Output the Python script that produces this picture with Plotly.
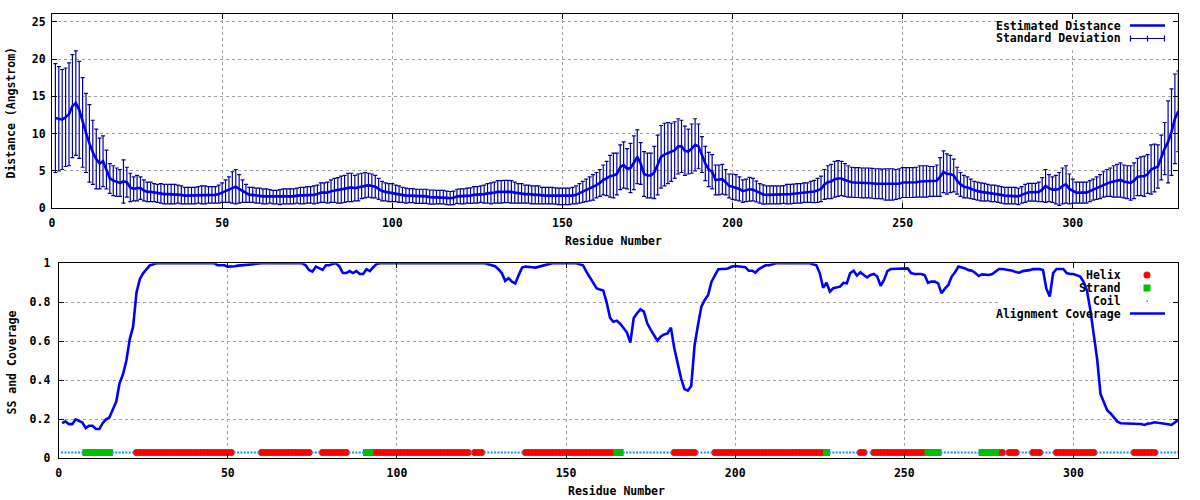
import plotly.graph_objects as go

# ---------------- data ----------------
residues = list(range(1, 332))

distance = [
    12.1, 12.0, 11.9, 12.2, 12.6, 13.7, 14.1, 13.2, 11.5, 10.1,
    8.7, 7.5, 6.6, 6.0, 6.3, 5.2, 4.0, 3.7, 3.5, 3.4,
    3.6, 3.5, 2.8, 2.6, 2.7, 2.7, 2.4, 2.2, 2.2, 2.1,
    2.0, 2.0, 1.9, 1.9, 1.9, 1.9, 1.9, 1.8, 1.7, 1.7,
    1.7, 1.7, 1.8, 1.8, 1.8, 1.8, 1.8, 1.8, 1.9, 2.1,
    2.3, 2.5, 2.8, 2.9, 2.6, 2.3, 2.0, 1.8, 1.8, 1.7,
    1.7, 1.6, 1.6, 1.6, 1.5, 1.5, 1.5, 1.6, 1.6, 1.6,
    1.6, 1.7, 1.7, 1.7, 1.8, 1.8, 1.8, 1.9, 2.1, 2.1,
    2.1, 2.3, 2.4, 2.4, 2.5, 2.6, 2.8, 2.8, 2.7, 2.8,
    3.0, 3.1, 3.1, 3.0, 2.9, 2.6, 2.3, 2.2, 2.1, 2.1,
    2.0, 1.9, 1.8, 1.7, 1.7, 1.7, 1.6, 1.6, 1.6, 1.6,
    1.5, 1.5, 1.5, 1.5, 1.5, 1.4, 1.35, 1.4, 1.6, 1.6,
    1.6, 1.7, 1.7, 1.8, 1.8, 1.9, 1.9, 2.0, 2.0, 2.1,
    2.2, 2.2, 2.25, 2.25, 2.2, 2.1, 2.0, 2.0, 1.9, 1.9,
    1.8, 1.8, 1.8, 1.7, 1.7, 1.7, 1.7, 1.65, 1.6, 1.6,
    1.6, 1.6, 1.7, 1.8, 2.0, 2.2, 2.4, 2.6, 2.8, 3.1,
    3.4, 3.8, 4.0, 4.3, 4.4, 4.6, 5.5, 5.8, 5.3, 5.4,
    6.1, 6.9, 6.0, 4.6, 4.4, 4.4, 4.8, 5.8, 6.9, 7.2,
    7.4, 7.5, 7.8, 8.3, 8.3, 7.7, 7.6, 8.0, 8.5, 8.3,
    7.2, 6.0, 5.2, 4.9, 3.8, 3.8, 3.9, 3.5, 3.0, 2.9,
    2.8, 2.6, 2.3, 2.4, 2.55, 2.5, 2.25, 2.0, 1.85, 1.8,
    1.8, 1.8, 1.8, 1.8, 1.85, 1.9, 1.9, 1.95, 2.0, 2.0,
    2.1, 2.1, 2.2, 2.25, 2.4, 2.6, 3.2, 3.5, 3.6, 3.9,
    4.0, 4.0, 3.8, 3.6, 3.5, 3.45, 3.45, 3.4, 3.4, 3.4,
    3.35, 3.3, 3.3, 3.25, 3.2, 3.2, 3.2, 3.2, 3.3, 3.45,
    3.45, 3.45, 3.45, 3.5, 3.6, 3.6, 3.6, 3.6, 3.6, 3.7,
    4.2, 4.9, 4.6, 4.6, 4.4, 3.7, 3.2, 2.9, 2.8, 2.6,
    2.4, 2.3, 2.2, 2.15, 2.1, 2.0, 2.0, 1.9, 1.8, 1.7,
    1.7, 1.7, 1.7, 1.6, 1.8, 2.0, 2.15, 2.15, 2.15, 2.2,
    2.5, 3.0, 2.7, 2.5, 2.5, 2.6, 3.0, 3.2, 2.6, 2.3,
    2.1, 2.1, 2.1, 2.1, 2.3, 2.5, 2.7, 2.9, 3.2, 3.4,
    3.5, 3.6, 3.7, 3.8, 3.6, 3.5, 3.4, 3.7, 4.2, 4.3,
    4.3, 4.6, 5.2, 5.4, 5.6, 6.8, 8.0, 8.9, 10.2, 12.0, 13.0,
]

std_dev = [
    7.3, 7.0, 6.7, 6.6, 6.9, 6.9, 7.0, 6.5, 6.0, 5.3,
    5.2, 4.3, 4.0, 3.4, 3.4, 2.6, 2.0, 2.0, 1.9, 1.8,
    2.9, 2.0, 1.9, 1.6, 1.7, 1.5, 1.4, 1.3, 1.3, 1.2,
    1.2, 1.3, 1.3, 1.3, 1.3, 1.3, 1.2, 1.2, 1.1, 1.1,
    1.1, 1.1, 1.1, 1.2, 1.2, 1.1, 1.1, 1.1, 1.2, 1.3,
    1.5, 1.7, 2.1, 2.3, 1.9, 1.5, 1.2, 1.0, 1.0, 1.0,
    1.0, 1.0, 1.0, 0.9, 0.9, 0.9, 1.0, 1.0, 1.0, 1.0,
    1.0, 1.0, 1.1, 1.1, 1.1, 1.1, 1.2, 1.2, 1.3, 1.3,
    1.4, 1.5, 1.6, 1.7, 1.8, 1.8, 1.9, 1.9, 1.7, 1.8,
    1.7, 1.7, 1.6, 1.6, 1.5, 1.4, 1.3, 1.2, 1.2, 1.2,
    1.1, 1.1, 1.0, 1.0, 0.95, 0.95, 0.95, 0.95, 0.95, 0.95,
    0.95, 0.95, 0.9, 0.9, 0.9, 0.9, 0.9, 0.9, 0.95, 1.0,
    1.0, 1.0, 1.05, 1.1, 1.1, 1.1, 1.2, 1.3, 1.4, 1.4,
    1.5, 1.5, 1.5, 1.5, 1.5, 1.4, 1.3, 1.3, 1.2, 1.2,
    1.2, 1.2, 1.2, 1.1, 1.1, 1.1, 1.1, 1.1, 1.1, 1.1,
    1.1, 1.1, 1.1, 1.2, 1.3, 1.4, 1.5, 1.6, 1.7, 1.7,
    1.8, 2.0, 2.3, 2.8, 3.0, 2.8, 3.0, 3.1, 2.7, 3.3,
    3.6, 3.6, 2.8, 3.0, 3.0, 3.0, 3.5, 4.0, 4.2, 4.2,
    4.1, 3.9, 3.8, 3.7, 3.5, 3.3, 3.0, 3.3, 3.5, 3.0,
    2.4, 2.3, 2.3, 2.3, 2.0, 2.0, 2.0, 1.7, 1.6, 1.7,
    1.7, 1.6, 1.5, 1.5, 1.6, 1.5, 1.4, 1.3, 1.3, 1.2,
    1.2, 1.2, 1.2, 1.2, 1.2, 1.3, 1.3, 1.3, 1.3, 1.3,
    1.3, 1.3, 1.4, 1.5, 1.6, 1.7, 2.0, 2.2, 2.3, 2.4,
    2.4, 2.3, 2.2, 2.1, 2.0, 2.0, 2.0, 2.0, 2.0, 2.0,
    2.0, 2.0, 2.0, 2.0, 2.1, 2.1, 2.1, 2.0, 2.0, 2.0,
    2.0, 2.0, 2.0, 2.0, 2.1, 2.1, 2.1, 2.0, 2.0, 2.1,
    2.6, 2.8, 2.7, 2.5, 2.2, 1.8, 1.6, 1.5, 1.4, 1.3,
    1.2, 1.2, 1.2, 1.2, 1.1, 1.1, 1.1, 1.1, 1.1, 1.1,
    1.1, 1.1, 1.1, 1.1, 1.1, 1.2, 1.2, 1.2, 1.2, 1.3,
    1.6, 2.2, 1.8, 1.7, 1.9, 2.2, 2.4, 2.5, 2.0, 1.6,
    1.4, 1.4, 1.4, 1.4, 1.4, 1.4, 1.5, 1.6, 1.7, 1.8,
    1.9, 2.1, 2.2, 2.3, 2.2, 2.2, 2.3, 2.4, 2.5, 2.6,
    2.7, 2.6, 3.3, 3.2, 2.9, 3.0, 3.5, 5.5, 5.8, 6.0, 5.4,
]

coverage = [
    0.18, 0.19, 0.175, 0.175, 0.20, 0.19, 0.183, 0.155, 0.167, 0.167,
    0.15, 0.15, 0.18, 0.20, 0.21, 0.25, 0.29, 0.385, 0.43, 0.50,
    0.61, 0.675, 0.85, 0.92, 0.95, 0.97, 0.99, 0.995, 1.0, 1.0,
    1.0, 1.0, 1.0, 1.0, 1.0, 1.0, 1.0, 1.0, 1.0, 1.0,
    1.0, 0.997, 0.997, 1.0, 1.0, 1.0, 0.99, 0.99, 0.99, 0.983,
    0.983, 0.985, 0.988, 0.99, 0.99, 0.992, 0.995, 0.998, 1.0, 1.0,
    1.0, 1.0, 1.0, 1.0, 1.0, 1.0, 1.0, 1.0, 1.0, 1.0,
    1.0, 1.0, 0.99, 0.966, 0.957, 0.983, 0.975, 0.966, 0.99, 0.99,
    0.997, 1.0, 0.983, 0.95, 0.95, 0.96, 0.95, 0.96, 0.945, 0.945,
    0.97, 0.96, 0.98, 0.997, 1.0, 1.0, 1.0, 1.0, 1.0, 1.0,
    1.0, 1.0, 1.0, 1.0, 1.0, 1.0, 1.0, 1.0, 1.0, 1.0,
    1.0, 1.0, 1.0, 1.0, 1.0, 1.0, 1.0, 1.0, 1.0, 1.0,
    1.0, 1.0, 1.0, 1.0, 1.0, 1.0, 0.995, 0.99, 0.985, 0.97,
    0.95, 0.91, 0.923, 0.906, 0.897, 0.94, 0.978, 0.983, 0.983, 0.98,
    0.978, 0.983, 0.986, 0.995, 0.997, 1.0, 1.0, 1.0, 1.0, 1.0,
    1.0, 1.0, 1.0, 0.995, 0.99, 0.957, 0.93, 0.9, 0.872, 0.865,
    0.86, 0.80, 0.72, 0.70, 0.706, 0.69, 0.67, 0.645, 0.593, 0.72,
    0.744, 0.764, 0.752, 0.692, 0.66, 0.63, 0.603, 0.625, 0.635, 0.64,
    0.67, 0.564, 0.479, 0.41, 0.355, 0.347, 0.371, 0.58, 0.684, 0.778,
    0.812, 0.838, 0.906, 0.94, 0.97, 0.971, 0.971, 0.975, 0.983, 0.986,
    0.983, 0.98, 0.98, 0.962, 0.962, 0.952, 0.97, 0.98, 0.99, 0.99,
    0.995, 1.0, 1.0, 1.0, 1.0, 1.0, 1.0, 1.0, 1.0, 1.0,
    1.0, 1.0, 0.995, 0.99, 0.95, 0.875, 0.90, 0.855, 0.872, 0.877,
    0.88, 0.90, 0.897, 0.95, 0.962, 0.937, 0.954, 0.94, 0.928, 0.94,
    0.945, 0.932, 0.884, 0.915, 0.96, 0.971, 0.971, 0.973, 0.974, 0.974,
    0.974, 0.95, 0.945, 0.945, 0.945, 0.94, 0.90, 0.906, 0.906, 0.897,
    0.846, 0.87, 0.889, 0.932, 0.954, 0.983, 0.98, 0.974, 0.965, 0.962,
    0.95, 0.935, 0.943, 0.943, 0.94, 0.945, 0.957, 0.971, 0.971, 0.968,
    0.966, 0.962, 0.955, 0.952, 0.96, 0.962, 0.965, 0.97, 0.971, 0.971,
    0.966, 0.87, 0.83, 0.95, 0.971, 0.971, 0.971, 0.95, 0.945, 0.945,
    0.94, 0.932, 0.905, 0.86, 0.76, 0.64, 0.51, 0.33, 0.285, 0.245,
    0.23, 0.21, 0.188, 0.18, 0.18, 0.179, 0.178, 0.177, 0.176, 0.176,
    0.171, 0.178, 0.18, 0.185, 0.182, 0.18, 0.179, 0.175, 0.171, 0.183, 0.197,
]

# secondary structure: (type, first residue, last residue)
ss_segments = [
    ("C", 1, 7), ("E", 8, 15), ("C", 16, 22), ("H", 23, 51), ("C", 52, 59),
    ("H", 60, 74), ("C", 75, 77), ("H", 78, 85), ("C", 86, 90), ("E", 91, 92),
    ("H", 93, 121), ("C", 122, 122), ("H", 123, 125), ("C", 126, 137),
    ("H", 138, 164), ("E", 165, 166), ("C", 167, 181), ("H", 182, 188),
    ("C", 189, 193), ("H", 194, 226), ("E", 227, 227), ("C", 228, 236),
    ("H", 237, 238), ("C", 239, 240), ("H", 241, 256), ("E", 257, 260),
    ("C", 261, 272), ("E", 273, 277), ("H", 278, 279), ("C", 280, 280),
    ("H", 281, 283), ("C", 284, 287), ("H", 288, 290), ("C", 291, 294),
    ("H", 295, 306), ("C", 307, 317), ("H", 318, 324), ("C", 325, 331),
]
ss_level = 0.03

x_ticks = [0, 50, 100, 150, 200, 250, 300]
dist_ticks = [0, 5, 10, 15, 20, 25]
cov_ticks = [0, 0.2, 0.4, 0.6, 0.8, 1]

# ---------------- styling ----------------
FONT = "DejaVu Sans Mono"
LINE_BLUE = "#0000ee"
BAR_NAVY = "#0000a0"
HELIX_RED = "#ff0000"
STRAND_GREEN = "#00c000"
COIL_BLUE = "#1a8cff"
GRID = "#a0a0a0"
W, H = 1200, 500


def px(x):
    return x / W


def py(y):
    return 1 - y / H


ss_by_res = {}
for kind, a, b in ss_segments:
    for r in range(a, b + 1):
        ss_by_res[r] = kind

fig = go.Figure()

# --- top panel ---
fig.add_trace(go.Scatter(
    x=residues, y=distance, mode="markers",
    marker=dict(size=1, color=BAR_NAVY),
    error_y=dict(type="data", array=std_dev, visible=True,
                 color=BAR_NAVY, thickness=1.2, width=2),
    xaxis="x", yaxis="y", showlegend=False, hoverinfo="skip"))
fig.add_trace(go.Scatter(
    x=residues, y=distance, mode="lines",
    line=dict(color=LINE_BLUE, width=2.6),
    xaxis="x", yaxis="y", showlegend=False))

# --- bottom panel ---
for kind, color, sym, size in [("H", HELIX_RED, "circle", 7),
                               ("E", STRAND_GREEN, "square", 7),
                               ("C", COIL_BLUE, "square", 2)]:
    xs = [r for r in residues if ss_by_res.get(r) == kind]
    fig.add_trace(go.Scatter(
        x=xs, y=[ss_level] * len(xs), mode="markers",
        marker=dict(symbol=sym, size=size, color=color, line=dict(width=0)),
        xaxis="x2", yaxis="y2", showlegend=False))
fig.add_trace(go.Scatter(
    x=residues, y=coverage, mode="lines",
    line=dict(color="#0000ff", width=2.6),
    xaxis="x2", yaxis="y2", showlegend=False))

axis_common = dict(
    showline=True, linecolor="black", linewidth=1, mirror="ticks",
    ticks="inside", ticklen=5, tickcolor="black", tickwidth=1,
    showgrid=True, gridcolor=GRID, gridwidth=1, griddash="dot",
    zeroline=False, automargin=False,
    tickfont=dict(family=FONT, size=11.5, color="black", weight="bold"),
)

fig.update_layout(
    width=W, height=H, autosize=False,
    margin=dict(l=0, r=0, t=0, b=0, pad=0),
    paper_bgcolor="white", plot_bgcolor="white",
    font=dict(family=FONT, size=11.5, color="black", weight="bold"),
    xaxis=dict(domain=[px(52), px(1178.3)], range=[0, 331], tickvals=x_ticks,
               anchor="y", ticklabelstandoff=4, **axis_common),
    yaxis=dict(domain=[py(208.3), py(14.3)], range=[0, 26], tickvals=dist_ticks,
               anchor="x", ticklabelstandoff=3, **axis_common),
    xaxis2=dict(domain=[px(58.7), px(1178.3)], range=[0, 331], tickvals=x_ticks,
                anchor="y2", ticklabelstandoff=4, **axis_common),
    yaxis2=dict(domain=[py(458.3), py(263.3)], range=[0, 1], tickvals=cov_ticks,
                anchor="x2", ticklabelstandoff=5, **axis_common),
)

annotations = [
    dict(text="Distance (Angstrom)", x=px(11), y=py(112.5), textangle=-90),
    dict(text="Residue Number", x=px(613.3), y=py(240.8)),
    dict(text="SS and Coverage", x=px(11), y=py(362.5), textangle=-90),
    dict(text="Residue Number", x=px(616.7), y=py(490.7)),
]
for a in annotations:
    a.update(xref="paper", yref="paper", showarrow=False,
             xanchor="center", yanchor="middle",
             font=dict(family=FONT, size=11.5, color="black", weight="bold"))

legend_texts = [
    ("Estimated Distance", 25.5), ("Standard Deviation", 38.5),
    ("Helix", 275), ("Strand", 288), ("Coil", 301), ("Alignment Coverage", 313.5),
]
for t, yy in legend_texts:
    annotations.append(dict(
        text=t, x=px(1123), y=py(yy), xref="paper", yref="paper",
        showarrow=False, xanchor="right", yanchor="middle",
        font=dict(family=FONT, size=11.5, color="black", weight="bold")))

shapes = [
    # legend backgrounds (cover grid, below data)
    dict(type="rect", xref="x", yref="y", x0=278, x1=330.6,
         y0=21.6, y1=25.95, fillcolor="white", line=dict(width=0), layer="between"),
    dict(type="rect", xref="x2", yref="y2", x0=278, x1=330.6,
         y0=0.70, y1=0.998, fillcolor="white", line=dict(width=0), layer="between"),
    # legend samples
    dict(type="line", xref="paper", yref="paper", x0=px(1130), x1=px(1165),
         y0=py(25.5), y1=py(25.5), line=dict(color=LINE_BLUE, width=2.6)),
    dict(type="line", xref="paper", yref="paper", x0=px(1130), x1=px(1165),
         y0=py(38.5), y1=py(38.5), line=dict(color=BAR_NAVY, width=1.2)),
    dict(type="circle", xref="paper", yref="paper", x0=px(1143.5), x1=px(1150.5),
         y0=py(278.5), y1=py(271.5), fillcolor=HELIX_RED, line=dict(width=0)),
    dict(type="rect", xref="paper", yref="paper", x0=px(1143.5), x1=px(1150.5),
         y0=py(291.5), y1=py(284.5), fillcolor=STRAND_GREEN, line=dict(width=0)),
    dict(type="rect", xref="paper", yref="paper", x0=px(1146.5), x1=px(1148),
         y0=py(302), y1=py(300.5), fillcolor=COIL_BLUE, line=dict(width=0)),
    dict(type="line", xref="paper", yref="paper", x0=px(1130), x1=px(1165),
         y0=py(313.5), y1=py(313.5), line=dict(color="#0000ff", width=2.6)),
]
for xx in (1130.5, 1147.5, 1164.5):
    shapes.append(dict(type="line", xref="paper", yref="paper", x0=px(xx), x1=px(xx),
                       y0=py(35.5), y1=py(41.5), line=dict(color=BAR_NAVY, width=1.2)))

fig.update_layout(annotations=annotations, shapes=shapes)

fig.write_html("out.html", config={"displayModeBar": False, "responsive": False},
               post_script="document.body.style.margin='0';")
